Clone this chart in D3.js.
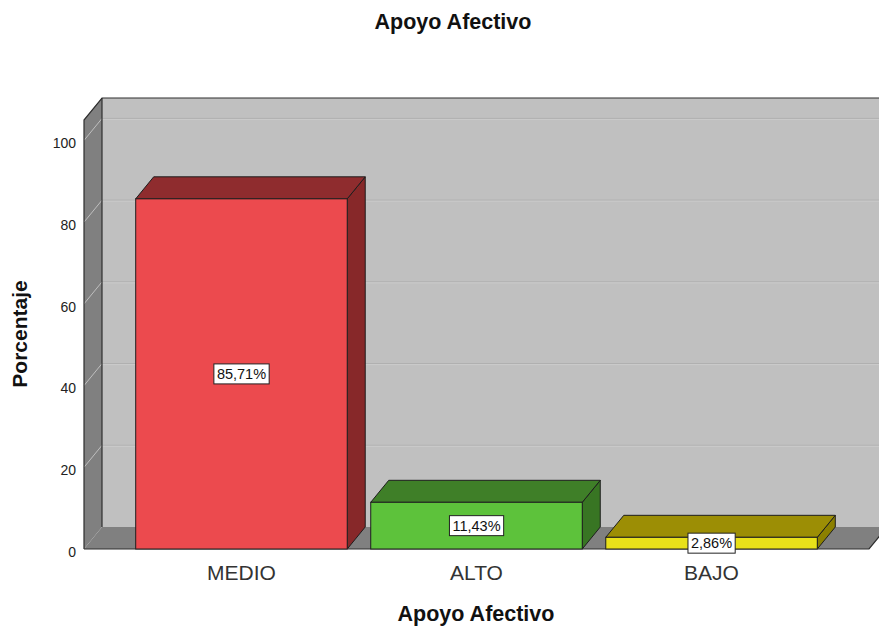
<!DOCTYPE html>
<html>
<head>
<meta charset="utf-8">
<script src="https://cdn.jsdelivr.net/npm/d3@7"></script>
<style>
  html, body { margin: 0; padding: 0; background: #fff; }
  svg { display: block; font-family: "Liberation Sans", Arial, sans-serif; }
</style>
</head>
<body>
<svg id="chart" width="879" height="628"></svg>
<script>
// Apoyo Afectivo — percentage per level
const categories = ["MEDIO", "ALTO", "BAJO"];
const values = [85.71, 11.43, 2.86];
const valueLabels = ["85,71%", "11,43%", "2,86%"];
const yTicks = [0, 20, 40, 60, 80, 100];
const frontColors = ["#ec4a4e", "#5dc23b", "#e9e11a"];
const topColors = ["#8f2c2e", "#3f7f28", "#9c8e05"];
const sideColors = ["#872829", "#387523", "#8c8000"];

(function () {
  const svg = d3.select("#chart");

  // front plane of the plot and depth offset of the 3D box
  const pLeft = 84, pRight = 869, pBottom = 549, pTop = 120;
  const dx = 18, dy = -22;

  const x = d3.scaleBand().domain(categories).range([pLeft, pRight])
    .paddingInner(0.1).paddingOuter(0.22);
  const y = d3.scaleLinear().domain([0, 105]).range([pBottom, pTop]);

  const poly = pts => pts.map(p => p.join(",")).join(" ");

  // back wall
  svg.append("polygon")
    .attr("points", poly([[pLeft + dx, pTop + dy], [pRight + dx, pTop + dy], [pRight + dx, pBottom + dy], [pLeft + dx, pBottom + dy]]))
    .attr("fill", "#c0c0c0");

  // gridlines on back wall
  yTicks.forEach(t => {
    if (t === 0) return;
    const yy = y(t);
    svg.append("line")
      .attr("x1", pLeft + dx).attr("x2", pRight + dx)
      .attr("y1", yy + dy).attr("y2", yy + dy)
      .attr("stroke", "#afafaf").attr("stroke-width", 1);
    svg.append("line")
      .attr("x1", pLeft + dx).attr("x2", pRight + dx)
      .attr("y1", yy + dy + 1).attr("y2", yy + dy + 1)
      .attr("stroke", "#cbcbcb").attr("stroke-width", 1);
  });

  // side wall with tick connectors
  svg.append("polygon")
    .attr("points", poly([[pLeft, pBottom], [pLeft, pTop], [pLeft + dx, pTop + dy], [pLeft + dx, pBottom + dy]]))
    .attr("fill", "#808080");
  yTicks.forEach(t => {
    if (t === 0) return;
    const yy = y(t);
    svg.append("line")
      .attr("x1", pLeft).attr("y1", yy)
      .attr("x2", pLeft + dx).attr("y2", yy + dy)
      .attr("stroke", "#cfcfcf").attr("stroke-width", 1).attr("opacity", 0.8);
  });

  // floor
  svg.append("polygon")
    .attr("points", poly([[pLeft, pBottom], [pRight, pBottom], [pRight + dx, pBottom + dy], [pLeft + dx, pBottom + dy]]))
    .attr("fill", "#808080");

  // frame edges
  svg.append("polyline")
    .attr("points", poly([[pLeft, pBottom], [pLeft, pTop], [pLeft + dx, pTop + dy], [pRight + dx + 40, pTop + dy]]))
    .attr("fill", "none").attr("stroke", "#2e2e2e").attr("stroke-width", 1.2);
  svg.append("line")
    .attr("x1", pLeft + dx).attr("y1", pTop + dy).attr("x2", pLeft + dx).attr("y2", pBottom + dy)
    .attr("stroke", "#2e2e2e").attr("stroke-width", 1.2);
  svg.append("polyline")
    .attr("points", poly([[pLeft, pBottom], [pRight, pBottom], [pRight + dx, pBottom + dy]]))
    .attr("fill", "none").attr("stroke", "#2e2e2e").attr("stroke-width", 1.2);

  // bars
  const bars = svg.append("g").selectAll("g").data(categories).join("g");
  bars.each(function (c, i) {
    const g = d3.select(this);
    const x0 = x(c), x1 = x(c) + x.bandwidth();
    const y0 = y(0), y1 = y(values[i]);
    const stroke = "#1e1e1e";
    g.append("polygon")
      .attr("points", poly([[x1, y0], [x1, y1], [x1 + dx, y1 + dy], [x1 + dx, y0 + dy]]))
      .attr("fill", sideColors[i]).attr("stroke", stroke).attr("stroke-width", 1).attr("stroke-linejoin", "round");
    g.append("polygon")
      .attr("points", poly([[x0, y1], [x1, y1], [x1 + dx, y1 + dy], [x0 + dx, y1 + dy]]))
      .attr("fill", topColors[i]).attr("stroke", stroke).attr("stroke-width", 1).attr("stroke-linejoin", "round");
    g.append("rect")
      .attr("x", x0).attr("y", y1).attr("width", x1 - x0).attr("height", y0 - y1)
      .attr("fill", frontColors[i]).attr("stroke", stroke).attr("stroke-width", 1);
  });

  // value labels
  bars.each(function (c, i) {
    const g = d3.select(this);
    const cx = x(c) + x.bandwidth() / 2;
    const cy = (y(0) + y(values[i])) / 2;
    const box = g.append("rect");
    const txt = g.append("text")
      .attr("x", cx).attr("y", cy).attr("dy", "0.35em")
      .attr("text-anchor", "middle").attr("font-size", 14.5).attr("fill", "#111")
      .text(valueLabels[i]);
    const bb = txt.node().getBBox();
    box.attr("x", bb.x - 3).attr("y", cy - 10).attr("width", bb.width + 6).attr("height", 20)
      .attr("fill", "#fff").attr("stroke", "#222").attr("stroke-width", 1);
  });

  // y tick labels
  svg.append("g").selectAll("text").data(yTicks).join("text")
    .attr("x", 76).attr("y", d => y(d) + 3).attr("dy", "0.35em")
    .attr("text-anchor", "end").attr("font-size", 14).attr("fill", "#222")
    .text(d => d);

  // category labels
  svg.append("g").selectAll("text").data(categories).join("text")
    .attr("x", d => x(d) + x.bandwidth() / 2).attr("y", 580)
    .attr("text-anchor", "middle").attr("font-size", 21).attr("fill", "#333")
    .text(d => d);

  // titles
  svg.append("text").attr("x", 453).attr("y", 29)
    .attr("text-anchor", "middle").attr("font-size", 21.5).attr("font-weight", "bold").attr("fill", "#111")
    .text("Apoyo Afectivo");
  svg.append("text").attr("x", 476).attr("y", 621)
    .attr("text-anchor", "middle").attr("font-size", 21.5).attr("font-weight", "bold").attr("fill", "#111")
    .text("Apoyo Afectivo");
  svg.append("text")
    .attr("transform", "translate(27,334) rotate(-90)")
    .attr("text-anchor", "middle").attr("font-size", 21).attr("font-weight", "bold").attr("fill", "#111")
    .text("Porcentaje");
})();
</script>
</body>
</html>
